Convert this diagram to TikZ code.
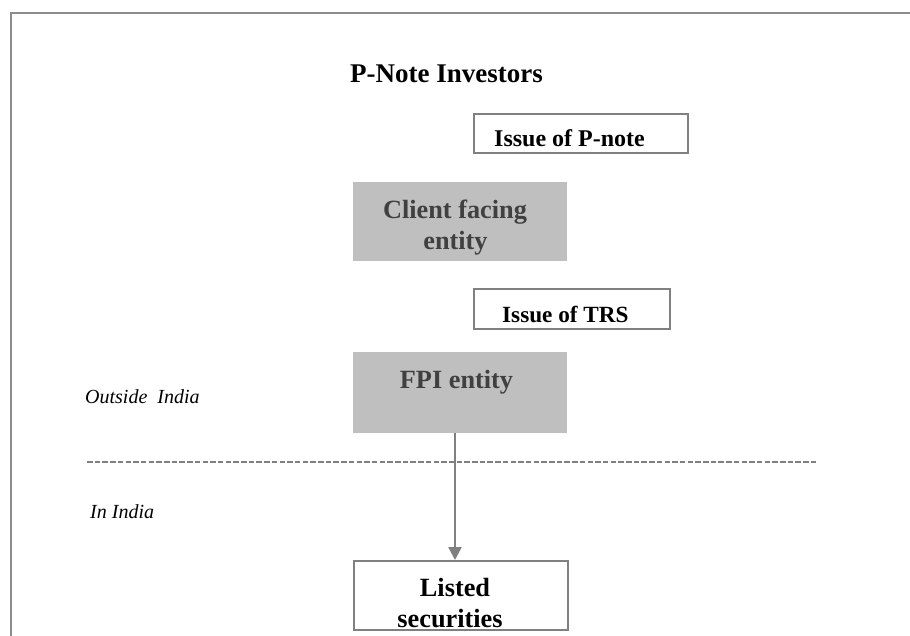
\documentclass[tikz,border=0pt]{standalone}
\usepackage{fontspec}
\setmainfont{Liberation Serif}
\usetikzlibrary{arrows.meta}
\definecolor{framegray}{HTML}{8C8C8C}
\definecolor{boxgray}{HTML}{BFBFBF}
\definecolor{entitytext}{HTML}{404040}
\definecolor{linegray}{HTML}{808080}
\begin{document}
\begin{tikzpicture}[x=1pt,y=-1pt,
  outlinebox/.style={draw=linegray,line width=1.8pt,fill=white,inner sep=0pt,anchor=north west},
  entitybox/.style={fill=boxgray,draw=none,inner sep=0pt,anchor=north west},
  boldtxt/.style={font=\fontsize{24}{28}\selectfont\bfseries,inner sep=0pt},
  entitytxt/.style={font=\fontsize{26.3}{31}\selectfont\bfseries,text=entitytext,inner sep=0pt,anchor=base},
  listtxt/.style={font=\fontsize{26.3}{31}\selectfont\bfseries,inner sep=0pt,anchor=base},
  regiontxt/.style={font=\fontsize{20}{24}\selectfont\itshape,inner sep=0pt,anchor=base west}]
\useasboundingbox (0,0) rectangle (910,635);
% frame
\coordinate (fbl) at (11,637);
\coordinate (ftl) at (11,13);
\coordinate (ftr) at (912,13);
\draw[framegray,line width=2.5pt] (fbl) -- (ftl) -- (ftr);
% title
\node[font=\fontsize{27}{31}\selectfont\bfseries,inner sep=0pt,anchor=base west] (title) at (350,82) {P-Note Investors};
% issue of P-note
\node[outlinebox,minimum width=214pt,minimum height=39pt] (pnote) at (473,113) {};
\node[boldtxt,anchor=base west] (pnotetxt) at (494,146) {Issue of P-note};
% client facing entity
\node[entitybox,minimum width=214pt,minimum height=79pt] (cfe) at (353,182) {};
\node[entitytxt] (cfe1) at (455,218) {Client facing};
\node[entitytxt] (cfe2) at (455.5,249) {entity};
% issue of TRS
\node[outlinebox,minimum width=196pt,minimum height=40pt] (trs) at (473,288) {};
\node[boldtxt,font=\fontsize{23.2}{28}\selectfont\bfseries,anchor=base west] (trstxt) at (502,322) {Issue of TRS};
% FPI entity
\node[entitybox,minimum width=214pt,minimum height=81pt] (fpi) at (353,352) {};
\node[entitytxt] (fpitxt) at (456.5,388) {FPI entity};
% region labels
\node[regiontxt] (outside) at (85,403) {Outside\ \ India};
\node[regiontxt] (inindia) at (90,518) {In India};
% dashed boundary
\coordinate (dl) at (87,462);
\coordinate (dr) at (817,462);
\draw[linegray,line width=1.4pt,dash pattern=on 5.5pt off 2.2pt] (dl) -- (dr);
% listed securities
\node[draw=linegray,line width=2.2pt,fill=white,inner sep=0pt,anchor=north west,minimum width=214pt,minimum height=69pt] (listed) at (353,560) {};
\node[listtxt] (listed1) at (455,596) {Listed};
\node[listtxt] (listed2) at (450,627) {securities};
% arrow
\draw[linegray,line width=2.5pt,-{Triangle[width=13pt,length=13pt]}] (fpi.south -| 455,0) -- (listed.north -| 455,0);
\end{tikzpicture}
\end{document}
